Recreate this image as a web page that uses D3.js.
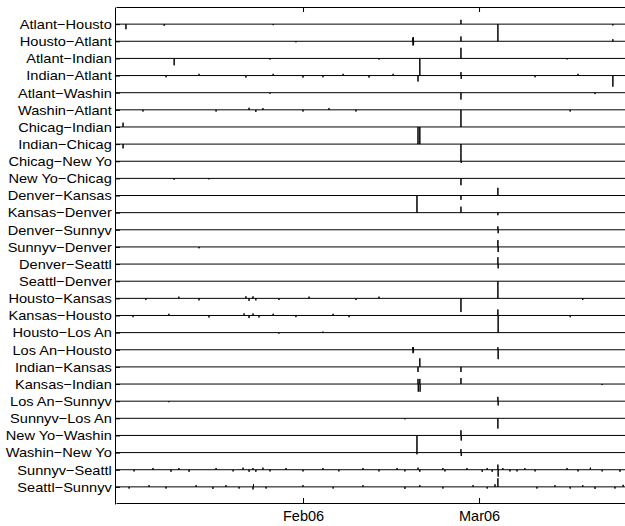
<!DOCTYPE html>
<html>
<head>
<meta charset="utf-8">
<script src="https://cdnjs.cloudflare.com/ajax/libs/d3/7.8.5/d3.min.js"></script>
<style>
  body { margin: 0; background: #fff; }
  svg { display: block; }
</style>
</head>
<body>
<svg id="chart" width="625" height="526"></svg>
<script>
// OD link names, top to bottom
const linkNames = [
  "Atlant−Housto", "Housto−Atlant", "Atlant−Indian", "Indian−Atlant",
  "Atlant−Washin", "Washin−Atlant", "Chicag−Indian", "Indian−Chicag",
  "Chicag−New Yo", "New Yo−Chicag", "Denver−Kansas", "Kansas−Denver",
  "Denver−Sunnyv", "Sunnyv−Denver", "Denver−Seattl", "Seattl−Denver",
  "Housto−Kansas", "Kansas−Housto", "Housto−Los An", "Los An−Housto",
  "Indian−Kansas", "Kansas−Indian", "Los An−Sunnyv", "Sunnyv−Los An",
  "New Yo−Washin", "Washin−New Yo", "Sunnyv−Seattl", "Seattl−Sunnyv"
];

// time span shown and date ticks
const timeSpan = ["01-02 06", "03-25 08"];
const xTicks = ["02-01 00", "03-01 00"];

// spikes per link: [date "mm-dd hh" (2006), deviation in row units, + is down]
const spikes = [
  [["01-03 20",0.3],["01-09 22",0.1],["01-27 06",0.06],["02-26 03",-0.25],["03-04 00",1.0],["03-22 07",0.08]],
  [["01-30 21",0.06],["02-18 11",-0.2],["02-18 12",0.25],["02-18 13",-0.25],["02-18 14",0.2],["02-26 03",-0.28],["03-22 07",-0.12]],
  [["01-11 12",0.4],["01-26 18",0.07],["02-13 02",0.07],["02-19 14",1.0],["02-26 03",-0.62],["03-15 00",0.06]],
  [["01-10 05",0.1],["01-15 11",-0.1],["01-22 22",0.12],["01-27 06",-0.1],["02-01 00",0.12],["02-04 04",0.1],["02-07 09",-0.1],["02-11 12",0.12],["02-15 08",-0.1],["02-19 07",0.35],["02-26 03",-0.2],["02-26 04",0.2],["03-09 22",0.1],["03-16 18",-0.1],["03-22 07",0.65]],
  [["01-26 18",0.06],["02-26 03",0.4],["03-19 11",0.08]],
  [["01-06 13",0.1],["01-18 04",0.1],["01-23 10",-0.12],["01-24 12",0.12],["01-25 15",-0.1],["02-01 00",0.1],["02-05 03",-0.1],["02-09 10",0.1],["02-26 03",1.0],["03-15 12",0.1]],
  [["01-03 09",-0.25],["02-19 07",1.0],["02-19 14",1.0]],
  [["01-03 09",0.25],["02-26 03",0.5]],
  [["02-26 03",-0.5],["02-26 04",0.1]],
  [["01-11 12",0.08],["01-17 01",0.06],["02-26 03",0.4]],
  [["02-19 03",1.0],["02-26 03",0.25],["03-04 00",-0.45]],
  [["02-26 03",-0.35],["03-04 00",0.15]],
  [["03-04 00",-0.2],["03-04 01",0.2]],
  [["01-15 11",0.08],["03-04 00",-0.4],["03-04 01",0.3]],
  [["03-04 00",-0.4],["03-04 01",0.25]],
  [["03-04 00",1.0]],
  [["01-07 00",0.1],["01-12 06",-0.1],["01-15 11",0.12],["01-22 22",-0.12],["01-23 10",0.15],["01-24 01",-0.12],["01-24 12",0.12],["01-28 04",0.1],["02-01 23",-0.1],["02-09 10",0.1],["02-13 02",-0.1],["02-26 03",0.8],["03-17 12",0.1]],
  [["01-04 23",0.1],["01-10 16",-0.1],["01-17 01",0.12],["01-22 15",-0.12],["01-23 10",0.15],["01-24 01",-0.12],["01-25 00",0.12],["01-27 06",-0.1],["01-30 21",0.1],["02-05 19",-0.1],["02-08 08",0.1],["03-04 00",-0.35],["03-04 01",1.0],["03-15 12",0.1]],
  [["01-28 04",0.06],["02-04 04",-0.06]],
  [["02-18 11",-0.15],["02-18 12",0.2],["02-18 13",-0.15],["02-18 14",0.15],["03-04 00",-0.15],["03-04 01",0.55]],
  [["02-19 07",0.3],["02-19 14",-0.5],["02-26 03",0.3]],
  [["02-19 07",-0.3],["02-19 08",0.45],["02-19 14",-0.3],["02-19 15",0.45],["02-26 03",-0.35],["03-20 14",0.06]],
  [["01-10 16",0.06],["03-04 00",-0.25],["03-04 01",0.25]],
  [["02-17 05",0.06],["03-04 00",0.6]],
  [["02-19 03",1.1],["02-26 03",-0.3],["02-26 04",0.3]],
  [["02-26 03",-0.2],["02-26 04",0.2]],
  [["01-05 03",0.1],["01-08 03",-0.1],["01-11 00",0.12],["01-12 06",-0.1],["01-13 21",0.12],["01-18 04",-0.1],["01-20 21",0.1],["01-22 11",-0.12],["01-23 10",0.12],["01-24 01",-0.1],["01-24 12",0.12],["01-25 15",-0.12],["01-26 18",0.1],["01-29 07",-0.1],["02-01 00",0.1],["02-04 04",-0.1],["02-06 17",0.1],["02-10 13",-0.1],["02-13 02",0.1],["02-15 23",-0.1],["02-17 05",0.1],["02-19 07",-0.12],["02-19 14",0.12],["02-23 06",-0.1],["02-23 14",0.1],["02-27 02",-0.1],["03-01 12",0.12],["03-02 07",-0.1],["03-03 02",0.12],["03-04 00",-0.3],["03-04 01",0.4],["03-04 19",-0.1],["03-05 22",0.1],["03-07 01",0.1],["03-08 07",-0.1],["03-09 22",0.1],["03-15 00",-0.1],["03-16 18",0.1],["03-18 17",-0.12],["03-20 14",0.1],["03-23 10",0.12]],
  [["01-04 08",0.1],["01-07 12",-0.1],["01-10 05",0.1],["01-15 00",-0.1],["01-17 16",0.12],["01-19 18",-0.1],["01-21 20",0.1],["01-24 01",0.15],["01-24 03",-0.15],["01-26 03",0.1],["02-01 00",-0.1],["02-05 19",0.1],["02-10 13",-0.1],["02-17 05",0.12],["02-19 14",-0.1],["02-23 06",0.1],["02-28 01",-0.1],["03-02 07",0.1],["03-03 13",-0.15],["03-04 00",-0.5],["03-10 05",0.1],["03-13 02",-0.1],["03-15 12",0.1],["03-17 12",-0.1],["03-19 11",0.12],["03-22 15",0.1],["03-23 22",-0.12]]
];

const parseT = s => d3.utcParse("%Y-%m-%d %H")("2006-" + s);

const svg = d3.select("#chart");
const fontFamily = '"Liberation Sans", Arial, Helvetica, sans-serif';

const x = d3.scaleUtc()
  .domain(timeSpan.map(parseT))
  .range([116, 632]);

const y = d3.scaleLinear()
  .domain([0, linkNames.length + 1])
  .range([7, 504]);

// one trace per link, baseline at its row, spikes as vertical excursions
const rowLine = d3.line()
  .x(d => x(d[0]))
  .y(d => y(d[1]));

const t0 = x.domain()[0], t1 = x.domain()[1];

const traces = linkNames.map((name, i) => {
  const base = i + 1;
  const pts = [[t0, base]];
  spikes[i]
    .map(s => [parseT(s[0]), s[1]])
    .sort((a, b) => a[0] - b[0])
    .forEach(s => {
      pts.push([s[0], base]);
      pts.push([s[0], base + s[1]]);
      pts.push([s[0], base]);
    });
  pts.push([t1, base]);
  return pts;
});

svg.append("g")
  .selectAll("path")
  .data(traces)
  .join("path")
  .attr("d", rowLine)
  .attr("fill", "none")
  .attr("stroke", "#000")
  .attr("stroke-width", 1)
  .attr("stroke-linejoin", "round");

// left axis with link names
const yAxis = svg.append("g")
  .attr("transform", "translate(115,0)")
  .call(d3.axisLeft(y)
    .tickValues(d3.range(1, linkNames.length + 1))
    .tickFormat(i => linkNames[i - 1])
    .tickSizeInner(-5)
    .tickSizeOuter(0)
    .tickPadding(3));

yAxis.attr("font-family", fontFamily).attr("font-size", 13.5);
yAxis.selectAll("text")
  .attr("fill", "#000")
  .attr("transform", "scale(1.08,1)");

// bottom date axis
const xAxis = svg.append("g")
  .attr("transform", "translate(0,503)")
  .call(d3.axisBottom(x)
    .tickValues(xTicks.map(parseT))
    .tickFormat(d3.utcFormat("%b%y"))
    .tickSizeInner(-5)
    .tickSizeOuter(0)
    .tickPadding(8));

xAxis.attr("font-family", fontFamily).attr("font-size", 14.5);
xAxis.selectAll("text").attr("fill", "#000");

// top edge of the box, ticks only
svg.append("g")
  .attr("transform", "translate(0,7)")
  .call(d3.axisTop(x)
    .tickValues(xTicks.map(parseT))
    .tickFormat("")
    .tickSizeInner(-5)
    .tickSizeOuter(0));
</script>
</body>
</html>
